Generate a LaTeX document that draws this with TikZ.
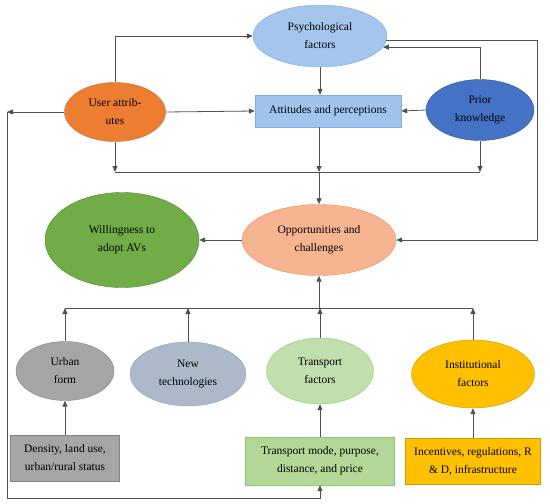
\documentclass[tikz,border=0pt]{standalone}
\usepackage{fontspec}
\setmainfont{Liberation Serif}
\usepackage{tikz}
\usetikzlibrary{shapes.geometric,arrows.meta}

\definecolor{psyC}{RGB}{163,197,235}
\definecolor{psyD}{RGB}{125,172,225}
\definecolor{attC}{RGB}{160,196,236}
\definecolor{attD}{RGB}{128,174,226}
\definecolor{usrC}{RGB}{237,125,49}
\definecolor{usrD}{RGB}{205,105,45}
\definecolor{priC}{RGB}{68,114,196}
\definecolor{priD}{RGB}{50,90,160}
\definecolor{oppC}{RGB}{246,180,145}
\definecolor{oppD}{RGB}{240,140,80}
\definecolor{wilC}{RGB}{112,173,71}
\definecolor{wilD}{RGB}{84,130,53}
\definecolor{greyC}{RGB}{165,165,165}
\definecolor{greyD}{RGB}{130,130,130}
\definecolor{tecC}{RGB}{173,185,202}
\definecolor{tecD}{RGB}{150,165,188}
\definecolor{trfC}{RGB}{192,223,172}
\definecolor{trfD}{RGB}{140,200,110}
\definecolor{trbC}{RGB}{178,215,150}
\definecolor{insC}{RGB}{255,192,0}
\definecolor{insD}{RGB}{205,155,0}
\definecolor{lnC}{RGB}{80,80,80}

\begin{document}
\begin{tikzpicture}[x=1pt,y=-1pt,font=\fontsize{11.5}{18}\selectfont,
  >={Triangle[length=6pt,width=5pt]},lnk/.style={draw=lnC,line width=0.8pt},
  elp/.style n args={4}{ellipse,fill=#1,draw=#2,minimum width=#3pt,minimum height=#4pt,inner sep=0pt,align=center},
  bx/.style n args={4}{rectangle,fill=#1,draw=#2,minimum width=#3pt,minimum height=#4pt,inner sep=0pt,align=center}]
\useasboundingbox (0,0) rectangle (550,504);
% top part
\node[elp={psyC}{psyD}{134}{62}] (psy) at (320,36) {Psychological\\factors};
\node[bx={attC}{attD}{146}{32}] (att) at (328,111) {Attitudes and perceptions};
\node[elp={usrC}{usrD}{101}{59}] (usr) at (115,112) {User attrib-\\utes};
\node[elp={priC}{priD}{108}{61}] (pri) at (480,110) {Prior\\knowledge};
\node[elp={oppC}{oppD}{154}{71}] (opp) at (319,240) {Opportunities and\\challenges};
\node[elp={wilC}{wilD}{154}{95}] (wil) at (122,240) {Willingness to\\adopt AVs};
% factors
\node[elp={greyC}{greyD}{98}{59}] (urb) at (65,371) {Urban\\form};
\node[elp={tecC}{tecD}{116}{64}] (tec) at (188,374) {New\\technologies};
\node[elp={trfC}{trfD}{107}{66}] (trf) at (320,371) {Transport\\factors};
\node[elp={insC}{insD}{123}{68}] (ins) at (473,374) {Institutional\\factors};
\node[bx={greyC}{greyD}{109}{46}] (den) at (65,458) {Density, land use,\\urban/rural status};
\node[bx={trbC}{trfD}{149}{48}] (trb) at (320,461) {Transport mode, purpose,\\distance, and price};
\node[bx={insC}{insD}{135}{46}] (inb) at (473,461) {Incentives, regulations, R\\\& D, infrastructure};
\coordinate (tb) at (319,172);
\coordinate (bb) at (319,308);
\coordinate (rt) at (537,240);
\coordinate (lc) at (7,112);
\coordinate (lb) at (7,498);
% connectors
\draw[lnk,->] (usr.north) |- (psy.west);
\draw[lnk,->] (usr.east) -- (att.west);
\draw[lnk,->] (pri.west) -- (att.east);
\draw[lnk,->] (pri.north) |- (psy.-10);
\draw[lnk,->] (psy.south) -- (psy.south |- att.north);
\draw[lnk,->] (psy.-4) -| (rt) -- (opp.east);
\draw[lnk] (usr.south |- tb) -- (pri.south |- tb);
\foreach \n in {usr,pri} {
   \draw[lnk,->] (\n.south) -- (\n.south |- tb);
}
\draw[lnk,->] (tb |- att.south) -- (tb);
\draw[lnk,->] (tb) -- (opp.north);
\draw[lnk,->] (opp.west) -- (wil.east);
\draw[lnk] (urb.north |- bb) -- (ins.north |- bb);
\foreach \n in {urb,tec,trf,ins} {
   \draw[lnk,->] (\n.north) -- (\n.north |- bb);
}
\draw[lnk,->] (bb) -- (opp.south);
\draw[lnk,->] (den.north) -- (urb.south);
\draw[lnk,->] (trb.north) -- (trf.south);
\draw[lnk,->] (inb.north) -- (ins.south);
\draw[lnk,->] (usr.west) -- (lc);
\draw[lnk,->] (lc) -- (lb) -| (trb.south);
\end{tikzpicture}
\end{document}
